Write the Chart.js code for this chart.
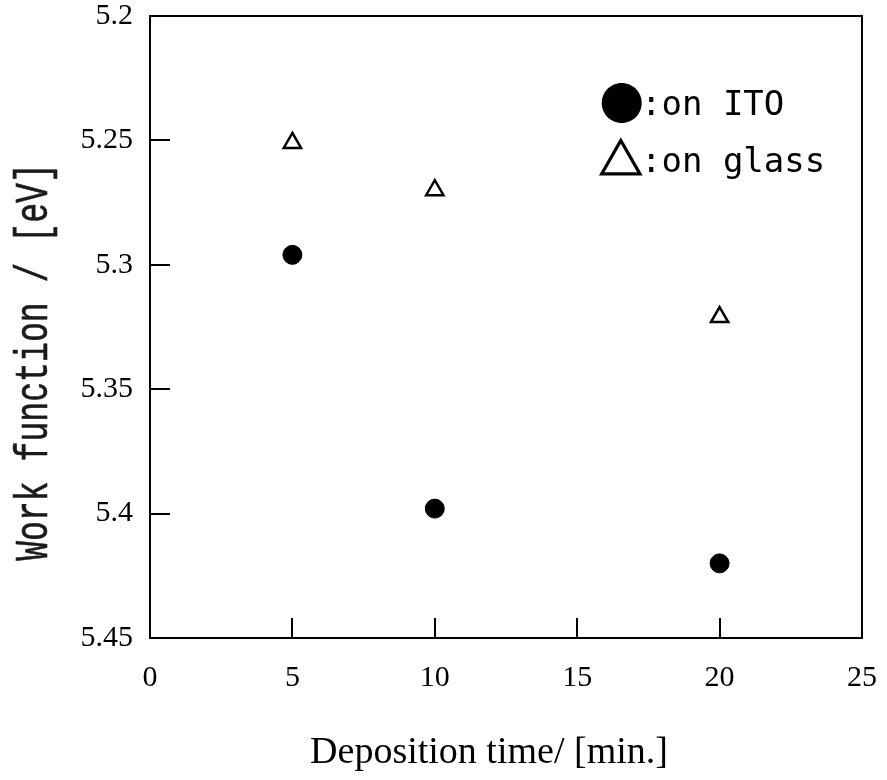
<!DOCTYPE html>
<html><head><meta charset="utf-8">
<script src="https://cdn.jsdelivr.net/npm/chart.js@4/dist/chart.umd.min.js"></script>
<style>html,body{margin:0;padding:0;background:#fff;} #wrap{width:887px;height:780px;}</style>
</head><body><div id="wrap"><canvas id="c" width="887" height="780"></canvas></div>
<script>
const depositionTimes = [5, 10, 20];
const workFunctionITO = [5.296, 5.398, 5.420];
const workFunctionGlass = [5.251, 5.270, 5.321];
const xTickValues = [0, 5, 10, 15, 20, 25];
const xTickLabels = ['0', '5', '10', '15', '20', '25'];
const yTickValues = [5.2, 5.25, 5.3, 5.35, 5.4, 5.45];
const yTickLabels = ['5.2', '5.25', '5.3', '5.35', '5.4', '5.45'];
const legendSymbols = ['●', '△'];
const legendTexts = [':on ITO', ':on glass'];
const xTitle = 'Deposition time/ [min.]';
const yTitle = 'Work function / [eV]';

function toPoints(xs, ys) { return xs.map((x, i) => ({ x: x, y: ys[i] })); }
function labelFor(values, labels, v) {
  const i = values.findIndex(t => Math.abs(t - v) < 1e-6);
  return i >= 0 ? labels[i] : '';
}

const framePlugin = {
  id: 'frame',
  beforeDatasetsDraw(chart) {
    const ctx = chart.ctx, a = chart.chartArea;
    const xs = chart.scales.x, ys = chart.scales.y;
    ctx.save();
    ctx.strokeStyle = '#000';
    ctx.lineWidth = 2;
    ctx.strokeRect(a.left, a.top, a.right - a.left, a.bottom - a.top);
    ctx.beginPath();
    yTickValues.forEach(v => {
      const py = Math.round(ys.getPixelForValue(v));
      ctx.moveTo(a.left, py); ctx.lineTo(a.left + 20, py);
    });
    xTickValues.forEach(v => {
      const px = Math.round(xs.getPixelForValue(v));
      ctx.moveTo(px, a.bottom); ctx.lineTo(px, a.bottom - 20);
    });
    ctx.stroke();
    ctx.restore();
  },
  afterDraw(chart) {
    const ctx = chart.ctx;
    ctx.save();
    // x title
    ctx.fillStyle = '#000';
    ctx.font = '38px "Liberation Serif"';
    ctx.textAlign = 'center';
    ctx.textBaseline = 'alphabetic';
    ctx.fillText(xTitle, 489, 763);
    // y title
    ctx.save();
    ctx.translate(47, 362);
    ctx.rotate(-Math.PI / 2);
    ctx.scale(0.72, 1);
    ctx.font = '46px "Liberation Mono"';
    ctx.fillStyle = '#1a1a1a';
    ctx.strokeStyle = '#1a1a1a';
    ctx.lineWidth = 0.6;
    ctx.textAlign = 'center';
    ctx.fillText(yTitle, 0, 0);
    ctx.strokeText(yTitle, 0, 0);
    ctx.restore();
    // legend
    const symTargets = [{ cx: 622, cy: 103, w: 40 }, { cx: 621, cy: 156.5, w: 41 }];
    const textPos = [{ x: 641, y: 115 }, { x: 641, y: 172 }];
    legendSymbols.forEach((s, i) => {
      ctx.textAlign = 'left';
      ctx.textBaseline = 'alphabetic';
      ctx.font = '100px "Noto Sans CJK JP"';
      let m = ctx.measureText(s);
      const bw = m.actualBoundingBoxLeft + m.actualBoundingBoxRight;
      const size = 100 * symTargets[i].w / bw;
      ctx.font = size.toFixed(2) + 'px "Noto Sans CJK JP"';
      m = ctx.measureText(s);
      ctx.fillStyle = '#000';
      ctx.strokeStyle = '#000';
      const x = symTargets[i].cx - (m.actualBoundingBoxRight - m.actualBoundingBoxLeft) / 2;
      const y = symTargets[i].cy + (m.actualBoundingBoxAscent - m.actualBoundingBoxDescent) / 2;
      ctx.fillText(s, x, y);
      if (i === 1) { ctx.lineWidth = 1.6; ctx.strokeText(s, x, y); }
      ctx.font = '34px "DejaVu Sans Mono"';
      ctx.fillText(legendTexts[i], textPos[i].x, textPos[i].y);
    });
    ctx.restore();
  }
};

new Chart(document.getElementById('c'), {
  type: 'scatter',
  data: {
    datasets: [
      {
        label: 'on ITO',
        data: toPoints(depositionTimes, workFunctionITO),
        pointStyle: 'circle',
        pointRadius: 9.5,
        backgroundColor: '#000',
        borderColor: '#000',
        borderWidth: 1
      },
      {
        label: 'on glass',
        data: toPoints(depositionTimes, workFunctionGlass),
        pointStyle: 'triangle',
        pointRadius: 10,
        backgroundColor: 'rgba(255,255,255,0)',
        borderColor: '#000',
        borderWidth: 2.5
      }
    ]
  },
  options: {
    responsive: false,
    animation: false,
    devicePixelRatio: 1,
    layout: { padding: { left: 0, right: 25, top: 16, bottom: 0 } },
    plugins: { legend: { display: false }, tooltip: { enabled: false } },
    scales: {
      x: {
        type: 'linear',
        min: 0, max: 25,
        afterBuildTicks: s => { s.ticks = xTickValues.map(v => ({ value: v })); },
        afterFit: s => { s.height = 142; s.paddingLeft = 0; s.paddingRight = 0; },
        ticks: {
          callback: v => labelFor(xTickValues, xTickLabels, v),
          font: { family: 'Liberation Serif', size: 30, lineHeight: 1 },
          color: '#000',
          padding: 25,
          maxRotation: 0,
          autoSkip: false
        },
        grid: { display: false, drawTicks: false },
        border: { display: false }
      },
      y: {
        type: 'linear',
        min: 5.2, max: 5.45,
        reverse: true,
        afterBuildTicks: s => { s.ticks = yTickValues.map(v => ({ value: v })); },
        afterFit: s => { s.width = 150; s.paddingTop = 0; s.paddingBottom = 0; },
        ticks: {
          callback: v => labelFor(yTickValues, yTickLabels, v),
          font: { family: 'Liberation Serif', size: 30, lineHeight: 1 },
          color: '#000',
          padding: 17,
          autoSkip: false
        },
        grid: { display: false, drawTicks: false },
        border: { display: false }
      }
    }
  },
  plugins: [framePlugin]
});
</script>
</body></html>
